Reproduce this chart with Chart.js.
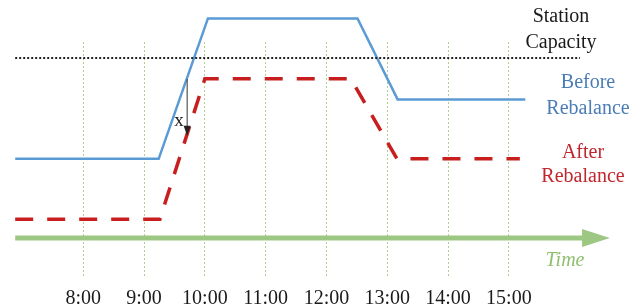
<!DOCTYPE html>
<html>
<head>
<meta charset="utf-8">
<script src="https://cdn.jsdelivr.net/npm/chart.js@4.4.1/dist/chart.umd.min.js"></script>
<style>
  html, body { margin: 0; padding: 0; background: #fff; }
  #wrap { width: 642px; height: 308px; }
</style>
</head>
<body>
<div id="wrap"><canvas id="chart"></canvas></div>
<script>
// data (hours of the day, bikes on a 0..100 capacity scale)
const tickHours = [8, 9, 10, 11, 12, 13, 14, 15];
const tickLabels = ["8:00", "9:00", "10:00", "11:00", "12:00", "13:00", "14:00", "15:00"];

const beforeHours = [6.88, 9.24, 10.05, 12.51, 13.17, 15.27];
const beforeLevels = [44, 44, 122, 122, 77, 77];

const afterHours = [6.88, 9.26, 10.0, 12.4, 13.16, 15.18];
const afterLevels = [10.5, 10.5, 88.5, 88.5, 44, 44];

const capacityHours = [6.88, 16.17];
const capacityLevel = 100;

const timeHours = [6.88, 16.22];
const timeTip = 16.66;

const gapHour = 9.7;

const toPoints = (xs, ys) => xs.map((x, i) => ({ x: x, y: Array.isArray(ys) ? ys[i] : ys }));

// level of a piecewise line at a given hour
function levelAt(xs, ys, h) {
  for (let i = 0; i < xs.length - 1; i++) {
    if (h >= xs[i] && h <= xs[i + 1]) {
      return ys[i] + (ys[i + 1] - ys[i]) * (h - xs[i]) / (xs[i + 1] - xs[i]);
    }
  }
  return ys[ys.length - 1];
}

const serif = "'Liberation Serif', 'Times New Roman', serif";

const extras = {
  id: "extras",
  afterDatasetsDraw(chart) {
    const ctx = chart.ctx;
    const x = chart.scales.x, y = chart.scales.y;

    // green time arrow head
    const x0 = x.getPixelForValue(timeHours[1]) - 1;
    const x1 = x.getPixelForValue(timeTip);
    const yt = y.getPixelForValue(0);
    ctx.save();
    ctx.fillStyle = "#9dc883";
    ctx.beginPath();
    ctx.moveTo(x0, yt - 9);
    ctx.lineTo(x1, yt);
    ctx.lineTo(x0, yt + 9);
    ctx.closePath();
    ctx.fill();

    // gap arrow between the two curves
    const gx = x.getPixelForValue(gapHour);
    const gy0 = y.getPixelForValue(levelAt(beforeHours, beforeLevels, gapHour));
    const gy1 = y.getPixelForValue(levelAt(afterHours, afterLevels, gapHour));
    ctx.strokeStyle = "#333";
    ctx.lineWidth = 1;
    ctx.beginPath();
    ctx.moveTo(gx + 0.5, gy0);
    ctx.lineTo(gx + 0.5, gy1 - 8);
    ctx.stroke();
    ctx.fillStyle = "#222";
    ctx.beginPath();
    ctx.moveTo(gx - 3, gy1 - 10);
    ctx.lineTo(gx + 0.5, gy1);
    ctx.lineTo(gx + 4, gy1 - 10);
    ctx.closePath();
    ctx.fill();

    ctx.textAlign = "center";
    ctx.textBaseline = "middle";
    ctx.font = "19px " + serif;
    ctx.fillStyle = "#222";
    ctx.fillText("x", 179, 121);

    ctx.font = "20px " + serif;
    ctx.fillStyle = "#1a1a1a";
    ctx.fillText("Station", 561, 17);
    ctx.fillText("Capacity", 561, 43);

    ctx.fillStyle = "#4a7cb8";
    ctx.fillText("Before", 588, 83);
    ctx.fillText("Rebalance", 588, 109);

    ctx.fillStyle = "#c0272d";
    ctx.fillText("After", 583, 153);
    ctx.fillText("Rebalance", 583, 177);

    ctx.font = "italic 20px " + serif;
    ctx.fillStyle = "#8fbf6f";
    ctx.fillText("Time", 565, 261);
    ctx.restore();
  }
};

new Chart(document.getElementById("chart"), {
  type: "scatter",
  data: {
    datasets: [
      {
        label: "Time",
        data: toPoints(timeHours, 0),
        showLine: true,
        borderColor: "#9dc883",
        borderWidth: 5,
        pointRadius: 0,
        clip: false
      },
      {
        label: "Station Capacity",
        data: toPoints(capacityHours, capacityLevel),
        showLine: true,
        borderColor: "#222",
        borderWidth: 2,
        borderDash: [2, 2],
        pointRadius: 0,
        clip: false
      },
      {
        label: "Before Rebalance",
        data: toPoints(beforeHours, beforeLevels),
        showLine: true,
        borderColor: "#5b9bd5",
        borderWidth: 2.5,
        pointRadius: 0,
        clip: false
      },
      {
        label: "After Rebalance",
        data: toPoints(afterHours, afterLevels),
        showLine: true,
        borderColor: "#c81e1e",
        borderWidth: 3.5,
        borderDash: [18, 14],
        pointRadius: 0,
        clip: false
      }
    ]
  },
  options: {
    responsive: true,
    maintainAspectRatio: false,
    animation: false,
    layout: { padding: { top: 42, left: 15, right: 32, bottom: 0 } },
    plugins: { legend: { display: false }, tooltip: { enabled: false } },
    scales: {
      x: {
        type: "linear",
        min: 6.877,
        max: 16.663,
        afterBuildTicks: scale => { scale.ticks = tickHours.map(v => ({ value: v })); },
        afterFit: scale => { scale.height = 30; },
        ticks: {
          autoSkip: false,
          maxRotation: 0,
          padding: 9,
          color: "#1a1a1a",
          font: { family: serif, size: 20 },
          callback: (v, i) => tickLabels[i]
        },
        grid: {
          drawTicks: false,
          color: "#b0cf8c",
          lineWidth: 1
        },
        border: { display: false, dash: [2, 2] }
      },
      y: {
        display: false,
        min: -22.2,
        max: 108.9
      }
    }
  },
  plugins: [extras]
});
</script>
</body>
</html>
